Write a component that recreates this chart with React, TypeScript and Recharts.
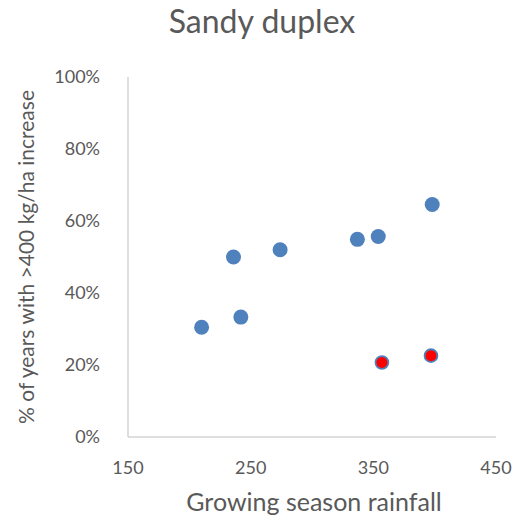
import React from 'react';
import { ScatterChart, Scatter, XAxis, YAxis } from 'recharts';

// growing season rainfall (mm) vs share of years with >400 kg/ha increase
const blueRain = [210, 236, 242, 274, 337, 354, 398];
const bluePct = [0.305, 0.5, 0.333, 0.52, 0.549, 0.557, 0.646];
const redRain = [357, 397];
const redPct = [0.207, 0.226];

const xTicks = [150, 250, 350, 450];
const yTicks = [0, 0.2, 0.4, 0.6, 0.8, 1];

const blueData = blueRain.map((x, i) => ({ x, y: bluePct[i] }));
const redData = redRain.map((x, i) => ({ x, y: redPct[i] }));

const FONT = 'Lato, "Open Sans", sans-serif';
const GREY = '#595959';

const BlueDot = (props: any) => (
    <circle cx={props.cx} cy={props.cy} r={7.5} fill="#4f81bd" />
);

const RedDot = (props: any) => (
    <circle cx={props.cx} cy={props.cy} r={6.4} fill="#ff0000" stroke="#4f81bd" strokeWidth={1.8} />
);

export default function App() {
    return (
        <div style={{ position: 'absolute', left: 0, top: 0, width: 518, height: 518, background: '#fff', fontFamily: FONT }}>
            <ScatterChart width={518} height={518} margin={{ top: 77, right: 22, bottom: 0, left: 0 }}>
                <XAxis
                    type="number"
                    dataKey="x"
                    domain={[150, 450]}
                    ticks={xTicks}
                    height={81}
                    tickLine={false}
                    tickMargin={18}
                    stroke="#bfbfbf"
                    tick={{ fill: GREY, fontSize: 18, fontFamily: FONT }}
                />
                <YAxis
                    type="number"
                    dataKey="y"
                    domain={[0, 1]}
                    ticks={yTicks}
                    width={128}
                    tickLine={false}
                    tickMargin={22}
                    stroke="#bfbfbf"
                    tickFormatter={(v: number) => `${Math.round(v * 100)}%`}
                    tick={{ fill: GREY, fontSize: 18, fontFamily: FONT }}
                />
                <Scatter data={blueData} shape={BlueDot} isAnimationActive={false} />
                <Scatter data={redData} shape={RedDot} isAnimationActive={false} />
            </ScatterChart>
            <svg width={518} height={518} style={{ position: 'absolute', left: 0, top: 0, pointerEvents: 'none' }}>
                <text x={262} y={33} textAnchor="middle" fontSize={32} fill={GREY} fontFamily={FONT}>
                    Sandy duplex
                </text>
                <text x={314} y={511} textAnchor="middle" fontSize={25} fill={GREY} fontFamily={FONT}>
                    Growing season rainfall
                </text>
                <text
                    x={0}
                    y={0}
                    transform="translate(34,257) rotate(-90)"
                    textAnchor="middle"
                    fontSize={21}
                    fill={GREY}
                    fontFamily={FONT}
                >
                    % of years with &gt;400 kg/ha increase
                </text>
            </svg>
        </div>
    );
}
